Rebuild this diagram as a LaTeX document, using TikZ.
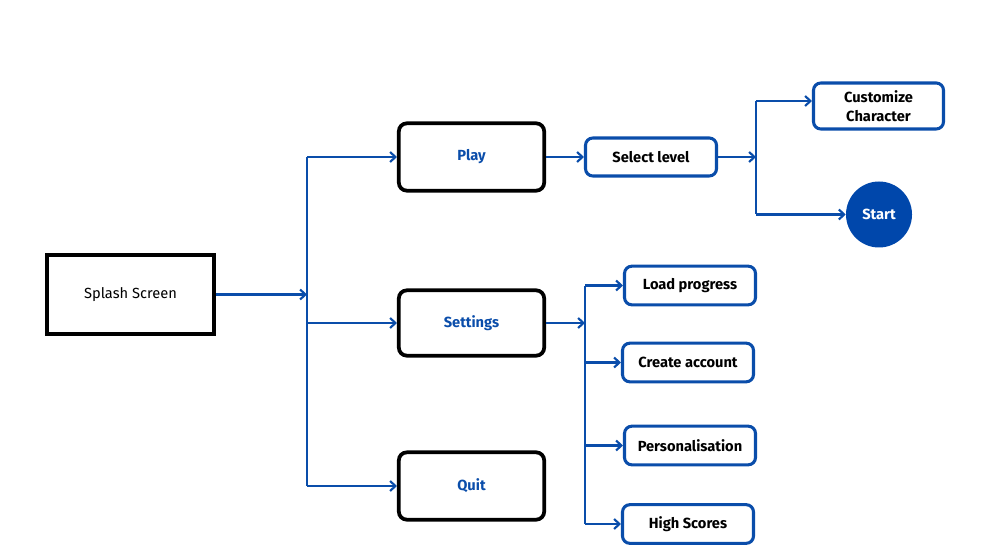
\documentclass[tikz,border=0pt]{standalone}
\usepackage{fontspec}
\setmainfont{Fira Sans}
\usetikzlibrary{arrows.meta}
\definecolor{fblue}{HTML}{0A4DAA}
\definecolor{sblue}{HTML}{0047AB}
\tikzset{
  blackbox/.style={draw=black, line width=2.8pt, rounded corners=6pt, font=\fontsize{11}{12}\selectfont\bfseries, text=fblue, minimum width=109pt, minimum height=50.5pt, inner sep=0pt},
  bluebox/.style={draw=fblue, line width=2.3pt, rounded corners=5.5pt, font=\fontsize{11}{14}\selectfont\bfseries, text=black, minimum width=98.25pt, minimum height=29pt, inner sep=0pt, align=center},
  link/.style={draw=fblue, line width=1.6pt},
  arr/.style={link, -{Straight Barb[length=4pt,width=7.5pt]}},
}
\begin{document}
\begin{tikzpicture}[x=0.75pt,y=-0.75pt]
\useasboundingbox (0,0) rectangle (994,559);
% nodes
\node[draw=black, line width=3.2pt, minimum width=125pt, minimum height=59pt, inner sep=0pt, font=\fontsize{11}{12}\selectfont] (splash) at (130.5,294.5) {Splash Screen};
\node[blackbox] (play) at (471.5,157) {Play};
\node[blackbox, minimum height=49pt] (settings) at (471.5,323) {Settings};
\node[blackbox] (quit) at (471.5,486) {Quit};
\node[bluebox, minimum height=28.5pt] (select) at (651,157) {Select level};
\node[bluebox, minimum width=97.5pt, minimum height=34.5pt] (custom) at (878.5,106) {Customize\\Character};
\node[circle, fill=sblue, minimum size=49.5pt, inner sep=0pt, text=white, font=\fontsize{11}{12}\selectfont\bfseries] (start) at (879,214.5) {Start};
\node[bluebox] (load) at (690,285.5) {Load progress};
\node[bluebox] (create) at (688,362.5) {Create account};
\node[bluebox] (pers) at (690,445.5) {Personalisation};
\node[bluebox] (high) at (688,524) {High Scores};
% junctions
\coordinate (ja) at (307,294.5);
\coordinate (jatop) at (307,157);
\coordinate (jamid) at (307,323);
\coordinate (jabot) at (307,486);
\coordinate (jb) at (756,157);
\coordinate (jbtop) at (756,101);
\coordinate (jbbot) at (756,214.5);
\coordinate (jc) at (585,323);
\coordinate (jc1) at (585,285.5);
\coordinate (jc2) at (585,362.5);
\coordinate (jc3) at (585,445.5);
\coordinate (jc4) at (585,524);
% connectors
\draw[arr] (splash.east) -- (ja);
\draw[link] (jatop) -- (jabot);
\draw[arr] (jatop) -- (play.west);
\draw[arr] (jamid) -- (settings.west);
\draw[arr] (jabot) -- (quit.west);
\draw[arr] (play.east) -- (select.west);
\draw[arr] (select.east) -- (jb);
\draw[link] (jbtop) -- (jbbot);
\draw[arr] (jbtop) -- (jbtop -| custom.west);
\draw[arr] (jbbot) -- (start.west);
\draw[arr] (settings.east) -- (jc);
\draw[link] (jc1) -- (jc4);
\draw[arr] (jc1) -- (load.west);
\draw[arr] (jc2) -- (create.west);
\draw[arr] (jc3) -- (pers.west);
\draw[arr] (jc4) -- (high.west);
\end{tikzpicture}
\end{document}
